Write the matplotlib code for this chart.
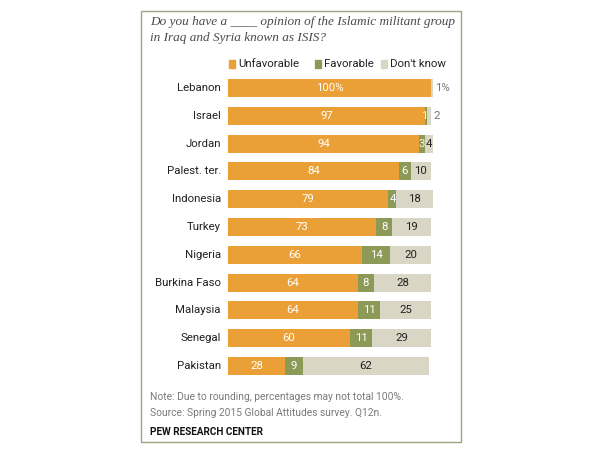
import matplotlib
matplotlib.use("Agg")
import matplotlib.pyplot as plt
from matplotlib.patches import Rectangle

countries = ["Lebanon", "Israel", "Jordan", "Palest. ter.", "Indonesia", "Turkey",
             "Nigeria", "Burkina Faso", "Malaysia", "Senegal", "Pakistan"]
unfavorable = [100, 97, 94, 84, 79, 73, 66, 64, 64, 60, 28]
favorable = [0, 1, 3, 6, 4, 8, 14, 8, 11, 11, 9]
dont_know = [1, 2, 4, 10, 18, 19, 20, 28, 25, 29, 62]
series_names = ["Unfavorable", "Favorable", "Don't know"]

C_UNF = "#EAA036"
C_FAV = "#8D9A57"
C_DK = "#D9D6C6"
FONT = "Roboto"

W, H = 616, 454
fig = plt.figure(figsize=(W / 100, H / 100), dpi=100)

def fx(px):
    return px / W

def fy(py):
    return 1 - py / H

# frame box
box = Rectangle((fx(141), fy(442)), fx(461) - fx(141), fy(11) - fy(442),
                transform=fig.transFigure, fill=False, edgecolor="#A3A184", linewidth=1.0)
fig.patches.append(box)

# title
fig.text(fx(150), fy(22), "Do you have a ____ opinion of the Islamic militant group",
         family="Liberation Serif", style="italic", fontsize=9.5, color="#4A4A4A", va="center")
fig.text(fx(150), fy(38), "in Iraq and Syria known as ISIS?",
         family="Liberation Serif", style="italic", fontsize=9.5, color="#4A4A4A", va="center")

# axes: x 0..100 -> 228..431 px, rows spacing 27.8 px starting at 88
x0, x100 = 228, 431
n = len(countries)
row0, step = 88, 27.8
top_px = row0 - 0.5 * step
bot_px = row0 + (n - 0.5) * step
ax = fig.add_axes([fx(x0), fy(bot_px), fx(x100) - fx(x0), fy(top_px) - fy(bot_px)])
ax.set_xlim(0, 100)
ax.set_ylim(n - 0.5, -0.5)
ax.axis("off")

ypos = list(range(n))
bh = 0.65
ax.barh(ypos, unfavorable, height=bh, color=C_UNF, clip_on=False, label=series_names[0])
ax.barh(ypos, favorable, left=unfavorable, height=bh, color=C_FAV, clip_on=False, label=series_names[1])
left2 = [u + f for u, f in zip(unfavorable, favorable)]
ax.barh(ypos, dont_know, left=left2, height=bh, color=C_DK, clip_on=False, label=series_names[2])

fs = 8.2
for i in range(n):
    u, f, d = unfavorable[i], favorable[i], dont_know[i]
    ax.text(-3.5, i, countries[i], ha="right", va="center", fontsize=fs, family=FONT, color="#222222")
    utxt = f"{u}%" if i == 0 else str(u)
    ax.text(u / 2, i, utxt, ha="center", va="center", fontsize=fs, family=FONT, color="#FFFFFF")
    if f > 0:
        col = "#FFF6C8" if f < 4 else "#FFFFFF"
        xf = u + f / 2 if f >= 3 else u + f / 2 - 0.8
        ax.text(xf, i, str(f), ha="center", va="center", fontsize=fs, family=FONT, color=col)
    dtxt = f"{d}%" if i == 0 else str(d)
    if d <= 2:
        ax.text(u + f + d + 1.2, i, dtxt, ha="left", va="center", fontsize=fs, family=FONT,
                color="#777777")
    else:
        ax.text(u + f + d / 2, i, dtxt, ha="center", va="center", fontsize=fs, family=FONT,
                color="#222222")

# legend
leg_items = [(229, C_UNF, series_names[0]), (315, C_FAV, series_names[1]), (381, C_DK, series_names[2])]
for px, col, lab in leg_items:
    fig.patches.append(Rectangle((fx(px), fy(68)), fx(6), fy(60) - fy(68),
                                 transform=fig.transFigure, color=col))
    fig.text(fx(px + 9), fy(64), lab, fontsize=8.2, family=FONT, color="#222222", va="center")

# notes
fig.text(fx(150), fy(397), "Note: Due to rounding, percentages may not total 100%.",
         fontsize=7.4, family=FONT, color="#7A7A7A", va="center")
fig.text(fx(150), fy(413), "Source: Spring 2015 Global Attitudes survey. Q12n.",
         fontsize=7.4, family=FONT, color="#7A7A7A", va="center")
fig.text(fx(150), fy(432), "PEW RESEARCH CENTER", fontsize=7.2, family=FONT, weight="bold",
         color="#111111", va="center")

fig.savefig("out.png", dpi=100)
